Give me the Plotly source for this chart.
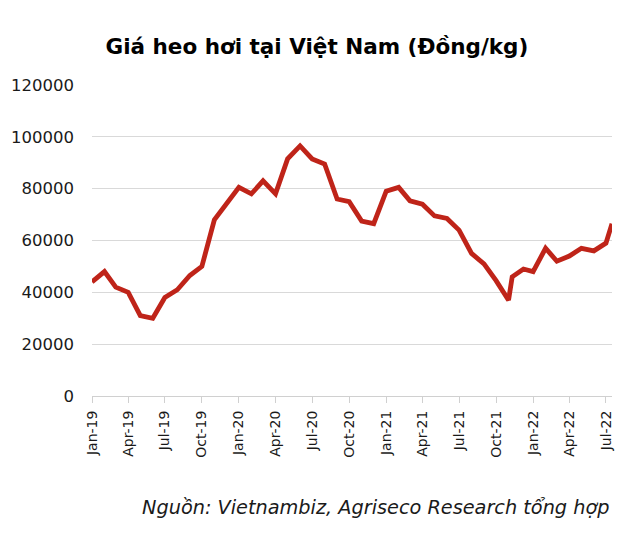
import plotly.graph_objects as go

dates = [
    "2019-01-01", "2019-02-01", "2019-03-01", "2019-04-01", "2019-05-01", "2019-06-01",
    "2019-07-01", "2019-08-01", "2019-09-01", "2019-10-01", "2019-11-01", "2019-12-01",
    "2020-01-01", "2020-02-01", "2020-03-01", "2020-04-01", "2020-05-01", "2020-06-01",
    "2020-07-01", "2020-08-01", "2020-09-01", "2020-10-01", "2020-11-01", "2020-12-01",
    "2021-01-01", "2021-02-01", "2021-03-01", "2021-04-01", "2021-05-01", "2021-06-01",
    "2021-07-01", "2021-08-01", "2021-09-01", "2021-10-01", "2021-11-01", "2021-11-10",
    "2021-12-08", "2022-01-01", "2022-02-01", "2022-03-01", "2022-04-01", "2022-05-01",
    "2022-06-01", "2022-07-01", "2022-07-16",
]
prices = [
    44000, 48000, 42000, 40000, 31000, 30000,
    38000, 41000, 46500, 50000, 68000, 74500,
    80500, 78000, 83000, 78000, 91500, 96500,
    91500, 89500, 76000, 75000, 67500, 66500,
    79000, 80500, 75300, 74000, 69500, 68500,
    64000, 55000, 51000, 44500, 37000, 46000,
    49000, 48000, 57000, 52000, 54000, 57000,
    56000, 59000, 66500,
]

title_text = "Giá heo hơi tại Việt Nam (Đồng/kg)"
source_text = "Nguồn: Vietnambiz, Agriseco Research tổng hợp"
y_ticks = [0, 20000, 40000, 60000, 80000, 100000, 120000]

fig = go.Figure()
fig.add_trace(go.Scatter(
    x=dates, y=prices, mode="lines",
    line=dict(color="#bf2419", width=4.8),
    hoverinfo="skip",
))

fig.update_layout(
    width=630, height=551,
    margin=dict(l=92, r=18, t=85, b=155),
    paper_bgcolor="white", plot_bgcolor="white",
    showlegend=False,
    font=dict(family="DejaVu Sans", color="#1a1a1a"),
    title=dict(
        text="<b>" + title_text + "</b>",
        x=0.503, xanchor="center",
        y=1 - 46 / 551, yref="container", yanchor="middle",
        font=dict(family="DejaVu Sans", size=21.5, color="#000000"),
    ),
)

fig.update_xaxes(
    type="date",
    range=["2019-01-01", "2022-07-16"],
    tick0="2019-01-01", dtick="M3", tickformat="%b-%y",
    tickangle=-90,
    ticks="outside", ticklen=6, tickcolor="#d0d0d0", tickwidth=1,
    showline=True, linecolor="#d0d0d0", linewidth=1,
    showgrid=False, zeroline=False,
    tickfont=dict(family="DejaVu Sans", size=14, color="#1a1a1a"),
    ticklabelstandoff=2,
)

fig.update_yaxes(
    range=[0, 120000],
    tickvals=y_ticks, ticktext=[str(v) for v in y_ticks],
    showgrid=True, gridcolor="#d9d9d9", gridwidth=1,
    zeroline=False, showline=False,
    tickfont=dict(family="DejaVu Sans", size=16.5, color="#1a1a1a"),
    ticklabelstandoff=17,
)

fig.add_annotation(
    text="<i>" + source_text + "</i>",
    xref="paper", yref="paper",
    x=1.0, y=(396 - 507) / 311,
    xanchor="right", yanchor="middle",
    showarrow=False,
    font=dict(family="DejaVu Sans", size=19.3, color="#1a1a1a"),
)

fig.write_html("out.html")
